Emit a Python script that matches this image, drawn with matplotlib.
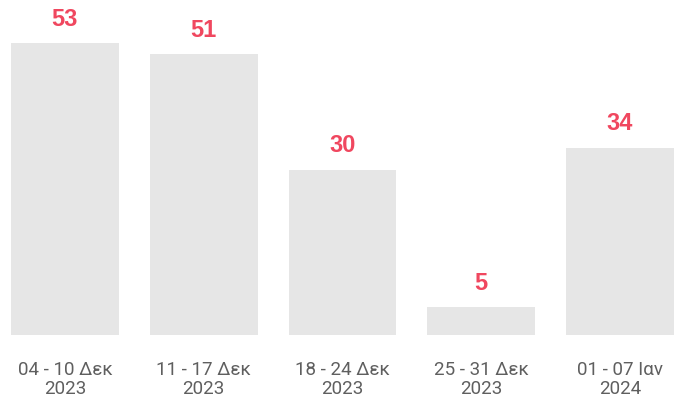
import matplotlib
matplotlib.use("Agg")
import matplotlib.pyplot as plt

categories = ["04 - 10 Δεκ\n2023", "11 - 17 Δεκ\n2023", "18 - 24 Δεκ\n2023",
              "25 - 31 Δεκ\n2023", "01 - 07 Ιαν\n2024"]
values = [53, 51, 30, 5, 34]

W, H = 680, 401
fig = plt.figure(figsize=(W/100, H/100), dpi=100)
half = 108/139/2
left_px, right_px = 11, 674
bottom_px, top_px = 335, 43
ax = fig.add_axes([left_px/W, (H-bottom_px)/H, (right_px-left_px)/W, (bottom_px-top_px)/H])
x = list(range(len(values)))
ax.bar(x, values, width=2*half, color="#e6e6e6")
ax.set_xlim(-half, len(values)-1+half)
ax.set_ylim(0, 53)
for xi, v in zip(x, values):
    ax.annotate(str(v), (xi, v), xytext=(0, 12.5), textcoords="offset points",
                ha="center", va="baseline", fontsize=17, fontweight="bold",
                color="#f0475f", family="Liberation Sans", annotation_clip=False)
ax.set_xticks(x)
ax.set_xticklabels(categories, family="Roboto", fontsize=13.5, color="#5f5f5f", linespacing=1.05)
ax.tick_params(axis="x", length=0, pad=19)
ax.set_yticks([])
for s in ax.spines.values():
    s.set_visible(False)
fig.savefig("out.png", dpi=100)
